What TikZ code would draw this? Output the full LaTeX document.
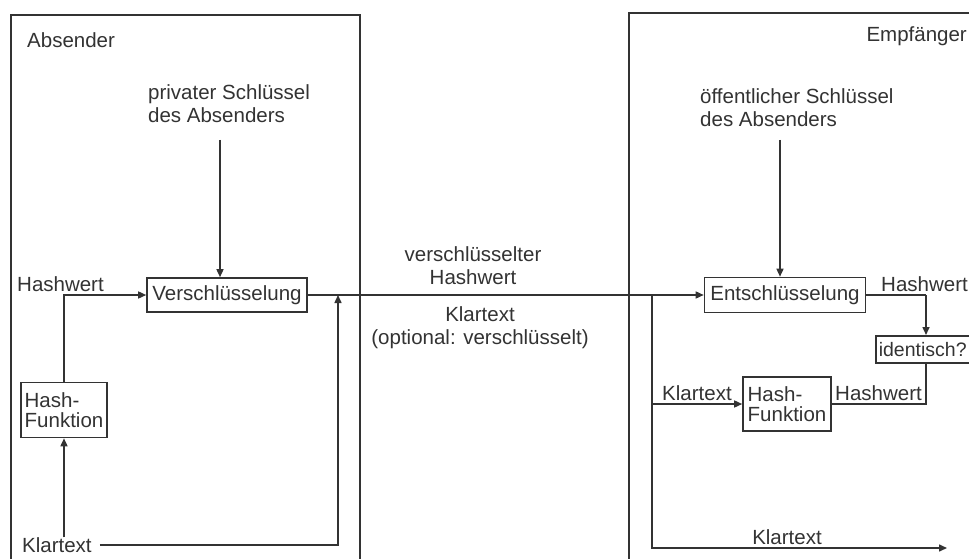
\documentclass[tikz,border=0pt]{standalone}
\usepackage{fontspec}
\setmainfont{Liberation Sans}
\usetikzlibrary{arrows.meta,positioning,calc}

\tikzset{
	block/.style={draw=black!80, line width=1.6pt, inner sep=2pt, fill=white, align=left},
	conn/.style={draw=black!80, line width=1.5pt},
	arr/.style={conn, -{Triangle[length=8pt,width=7pt]}},
	lbl/.style={inner sep=0pt, align=left}
}

\begin{document}
\begin{tikzpicture}[x=1pt, y=-1pt, font=\fontsize{20.5}{23}\selectfont, text=black!80]
	
	\clip (0,0) rectangle (969,559);
	\fill[white] (0,0) rectangle (969,559);
	
	% Absender
	\draw[conn] (11,15) rectangle (360,590);
	\node[lbl, anchor=west] (absender) at (27,40) {Absender};
	\node[lbl, anchor=west] (privkey) at (148,104) {privater Schlüssel\\des Absenders};
	\node[block, minimum width=160pt, minimum height=34pt] (verschl) at (227,295) {Verschlüsselung};
	\node[block, font=\fontsize{20.5}{20}\selectfont, minimum width=86pt, minimum height=55pt] (hashA) at (64,410) {Hash-\\Funktion};
	\node[lbl, anchor=west] (hashwA) at (17,284) {Hashwert};
	\node[lbl, anchor=west] (klarA) at (22,545) {Klartext};
	\coordinate (keyA) at (220,140);
	\coordinate (joinA) at (338,295);
	
	\draw[arr] (keyA) -- (keyA |- verschl.north);
	\draw[arr] (hashA.south |- klarA.north) -- (hashA.south);
	\draw[arr] (hashA.north) |- (verschl.west);
	\draw[arr] ([xshift=8pt]klarA.east) -| (joinA);
	
	% Uebertragung
	\node[lbl, align=center] (sendH) at (473,266) {verschlüsselter\\Hashwert};
	\node[lbl, align=center] (sendK) at (480,328) {Klartext\\(optional: verschlüsselt)};
	
	% Empfaenger
	\draw[conn] (629,13) rectangle (990,590);
	\node[lbl, anchor=east] (empf) at (967,36) {Empfänger};
	\node[lbl, anchor=west] (pubkey) at (700,108) {öffentlicher Schlüssel\\des Absenders};
	\node[block, minimum width=161pt, minimum height=35pt] (entschl) at (785,295) {Entschlüsselung};
	\node[block, font=\fontsize{19.5}{20}\selectfont, inner sep=1.5pt, minimum width=100pt, minimum height=27pt, anchor=north west, align=left, text width=94pt] (ident) at (875,335) {identisch?};
	\node[block, font=\fontsize{20.5}{20}\selectfont, minimum width=88pt, minimum height=54pt] (hashB) at (787,404) {Hash-\\Funktion};
	\node[lbl, anchor=west] (hashwB) at (881,284) {Hashwert};
	\node[lbl, anchor=west] (hashwC) at (835,393) {Hashwert};
	\node[lbl, anchor=west] (klarB) at (662,393) {Klartext};
	\node[lbl] (klarC) at (787,537) {Klartext};
	\coordinate (keyB) at (780,140);
	\coordinate (splitB) at (652,295);
	\coordinate (endB) at (947,548);
	\coordinate (cmpB) at (926,295);
	
	\draw[arr] (keyB) -- (keyB |- entschl.north);
	\draw[arr] (verschl.east) -- (entschl.west);
	\draw[conn] (entschl.east) -- (cmpB);
	\draw[arr] (cmpB) -- (cmpB |- ident.north);
	\draw[conn] (cmpB |- ident.south) |- (hashB.east);
	\draw[arr] (splitB) |- (endB);
	\draw[arr] (splitB |- hashB.west) -- (hashB.west);
	
\end{tikzpicture}
\end{document}
